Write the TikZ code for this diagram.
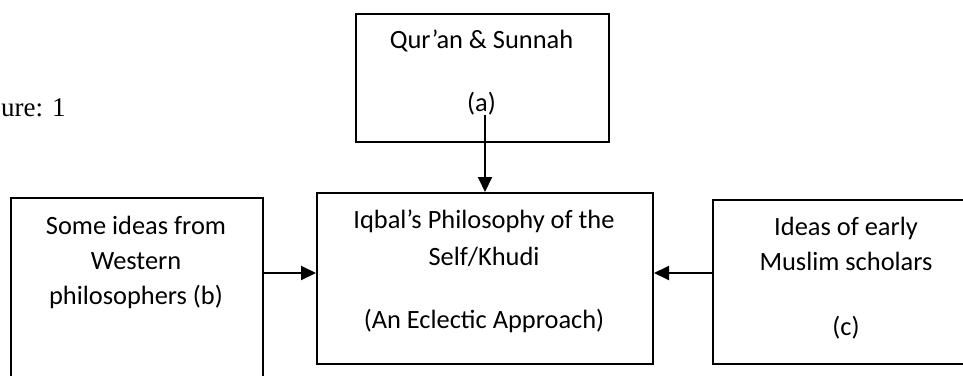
\documentclass[tikz,border=0pt]{standalone}
\usepackage{fontspec}
\setmainfont{Carlito}
\newfontfamily\capfont{Liberation Serif}
\usepackage{tikz}
\usetikzlibrary{arrows.meta, positioning, calc}

\tikzset{
    box/.style={draw, line width=2pt, anchor=north west, inner sep=0pt},
    lbl/.style={anchor=base, inner sep=0pt, font=\fontsize{26.4}{34}\selectfont},
    arr/.style={-{Triangle[length=15pt, width=14pt]}, line width=2pt}
}

\begin{document}
\begin{tikzpicture}[x=1pt, y=-1pt]
    \useasboundingbox (0,0) rectangle (963,375);
    \node[anchor=base west, inner sep=0pt, font=\capfont\fontsize{27}{32}\selectfont] (fig) at (1,116) {ure: 1};
    % boxes
    \node[box, minimum width=253pt, minimum height=128pt] (quran) at (355,13) {};
    \node[box, minimum width=336pt, minimum height=171pt] (self) at (316,192) {};
    \node[box, minimum width=252pt, minimum height=200pt] (west) at (10,197) {};
    \node[box, minimum width=268pt, minimum height=164pt] (early) at (712,199) {};
    % texts
    \node[lbl] (q1) at (481.5,48) {Qur’an \& Sunnah};
    \node[lbl] (qa) at (481.5,111) {(a)};
    \node[lbl] (s1) at (484,228) {Iqbal’s Philosophy of the};
    \node[lbl] (s2) at (484,265) {Self/Khudi};
    \node[lbl] (s3) at (484,328) {(An Eclectic Approach)};
    \node[lbl] (w1) at (136,234) {Some ideas from};
    \node[lbl] (w2) at (136,269) {Western};
    \node[lbl] (w3) at (136,304) {philosophers (b)};
    \node[lbl] (e1) at (846,235) {Ideas of early};
    \node[lbl] (e2) at (846,270) {Muslim scholars};
    \node[lbl] (ec) at (846,335) {(c)};
    % arrows
    \coordinate (lvl) at (0,273);
    \draw[arr] (qa.south -| self.north) -- (self.north);
    \draw[arr] (west.east |- lvl) -- (self.west |- lvl);
    \draw[arr] (early.west |- lvl) -- (self.east |- lvl);
\end{tikzpicture}
\end{document}
